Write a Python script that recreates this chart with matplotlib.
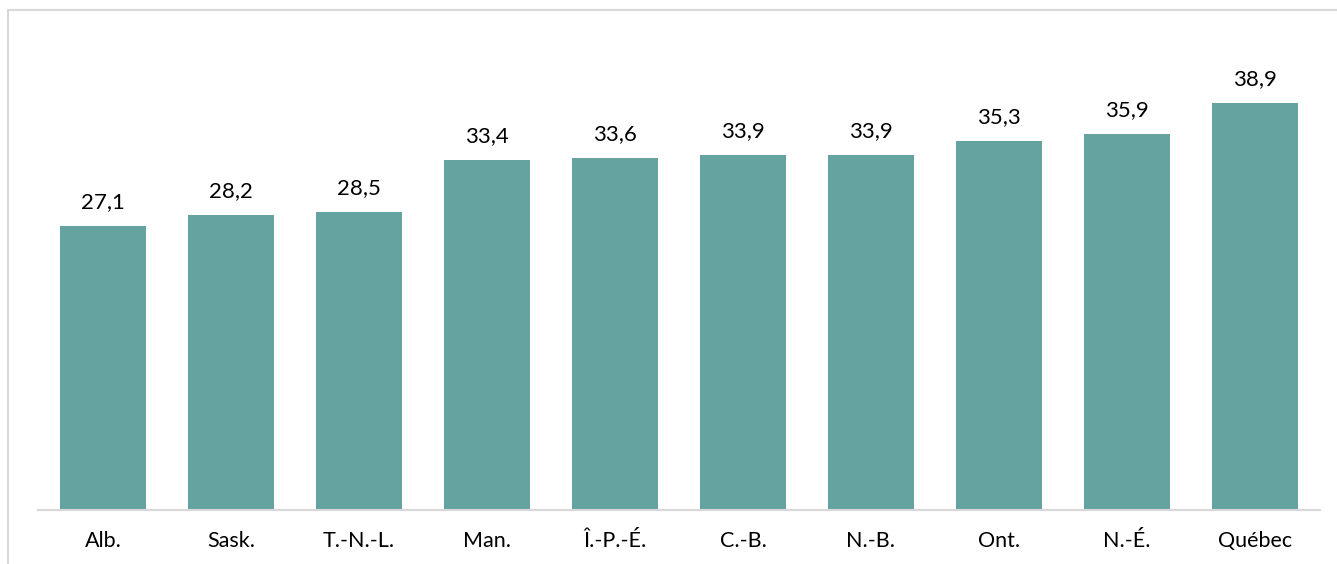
import matplotlib.pyplot as plt
from matplotlib.patches import Rectangle

provinces = ['Alb.', 'Sask.', 'T.-N.-L.', 'Man.', 'Î.-P.-É.', 'C.-B.', 'N.-B.', 'Ont.', 'N.-É.', 'Québec']
valeurs = [27.1, 28.2, 28.5, 33.4, 33.6, 33.9, 33.9, 35.3, 35.9, 38.9]

plt.rcParams['font.family'] = ['Lato', 'DejaVu Sans']

W, H = 1337, 564
fig = plt.figure(figsize=(W / 100, H / 100), dpi=100)

# cadre gris clair autour du graphique
fig.patches.append(Rectangle((8 / W, -0.05), 1.1, (H - 10) / H + 0.05,
                             transform=fig.transFigure, fill=False,
                             edgecolor='#D9D9D9', linewidth=1.5))

ax = fig.add_axes([38 / W, 54 / H, (1320 - 38) / W, 471 / H])
x = range(len(provinces))
bars = ax.bar(x, valeurs, width=0.67, color='#64A3A0')

for b, v in zip(bars, valeurs):
    ax.annotate(f'{v:.1f}'.replace('.', ','), (b.get_x() + b.get_width() / 2, v),
                xytext=(0, 10), textcoords='offset points',
                ha='center', va='bottom', fontsize=16, color='#000000')

ax.set_xlim(-0.508, len(provinces) - 1 + 0.508)
ax.set_ylim(0, 45)
ax.set_xticks(list(x))
ax.set_xticklabels(provinces, fontsize=15.5)
ax.tick_params(axis='x', length=0, pad=15)
ax.set_yticks([])
for s in ['top', 'right', 'left']:
    ax.spines[s].set_visible(False)
ax.spines['bottom'].set_color('#D9D9D9')
ax.spines['bottom'].set_linewidth(1.5)

fig.savefig('out.png', dpi=100)
